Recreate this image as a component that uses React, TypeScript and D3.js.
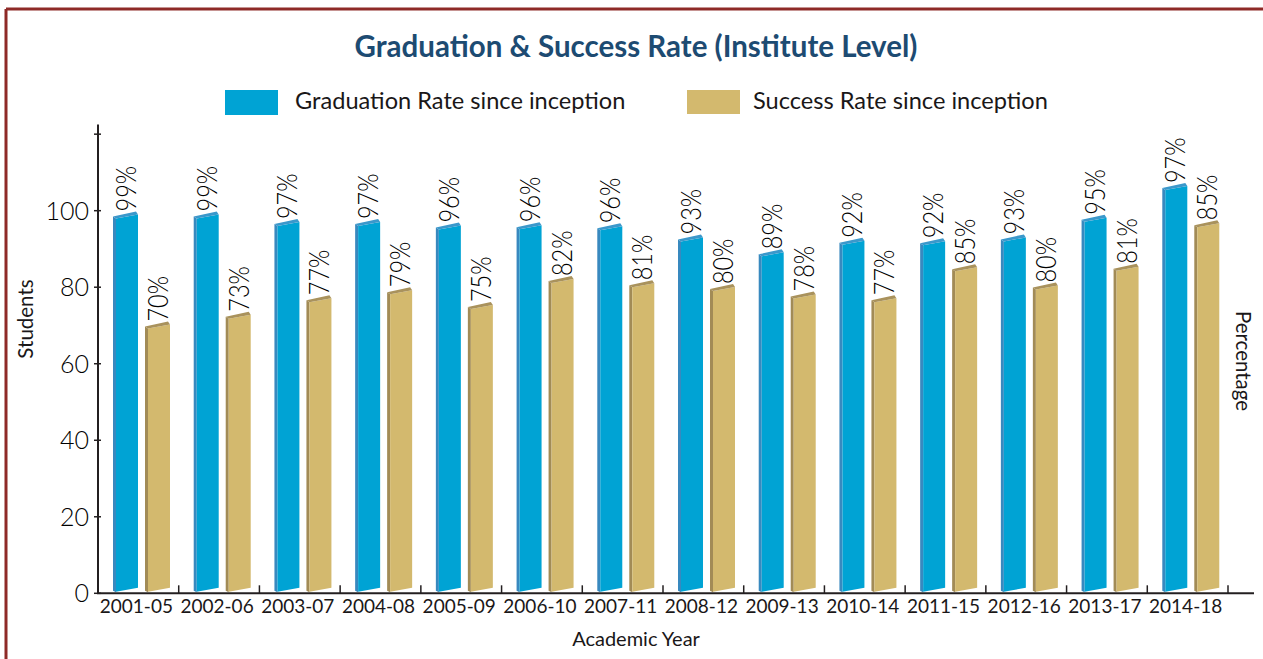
import React from "react";
import * as d3 from "d3";

const categories = ["2001-05", "2002-06", "2003-07", "2004-08", "2005-09", "2006-10", "2007-11", "2008-12", "2009-13", "2010-14", "2011-15", "2012-16", "2013-17", "2014-18"];
const graduationValues = [98.5, 98.5, 96.5, 96.5, 95.6, 95.7, 95.4, 92.5, 88.6, 91.6, 91.5, 92.5, 97.6, 105.9];
const graduationLabels = ["99%", "99%", "97%", "97%", "96%", "96%", "96%", "93%", "89%", "92%", "92%", "93%", "95%", "97%"];
const successValues = [69.7, 72.3, 76.6, 78.7, 74.8, 81.6, 80.5, 79.5, 77.6, 76.6, 84.7, 79.9, 84.8, 96.2];
const successLabels = ["70%", "73%", "77%", "79%", "75%", "82%", "81%", "80%", "78%", "77%", "85%", "80%", "81%", "85%"];
const yTicks = [0, 20, 40, 60, 80, 100, 120];
const yTickLabels = ["0", "20", "40", "60", "80", "100", ""];

const W = 1263;
const H = 659;
const FONT = "Lato, 'Open Sans', sans-serif";
const TEXT = "#1a1718";

const blue = { front: "#00a3d4", side: "#3889bf", top: "#3b98cb" };
const gold = { front: "#d3b96e", side: "#a28b56", top: "#a9925c" };

export default function App() {
  const x = d3.scaleBand<string>().domain(categories).range([98, 1228]).paddingInner(0).paddingOuter(0);
  const y = d3.scaleLinear().domain([0, 122.5]).range([593.3, 124.6]);
  const y0 = y(0);
  const bw = x.bandwidth();

  const bar = (bx: number, v: number, c: typeof blue, key: string) => {
    const xl = bx;
    const xr = bx + 25;
    const fx0 = xl + 3;
    const fx1 = xr;
    const yv = y(v);
    const tL = yv + 2;
    const tR = yv - 2;
    const bL = y0 - 1.5;
    const bR = y0 - 5.5;
    const d = 3;
    const pts = (a: number[][]) => a.map((p) => p.join(",")).join(" ");
    return (
      <g key={key}>
        <polygon points={pts([[fx0, tL], [fx0 - d, tL - d + 1], [fx0 - d, bL - 1], [fx0, bL + 0.5]])} fill={c.side} />
        <polygon points={pts([[fx0, tL], [fx1, tR], [fx1, bR], [fx0, bL]])} fill={c.front} />
        <polygon points={pts([[fx0, tL], [fx1, tR], [fx1 - d + 1, tR - d], [fx0 - d, tL - d + 1]])} fill={c.top} />
      </g>
    );
  };

  const label = (bx: number, v: number, text: string, key: string) => {
    const cx = bx + 3 + 11;
    const ty = y(v) - 5;
    return (
      <text key={key} transform={`translate(${cx + 9},${ty}) rotate(-90) scale(1,1.15)`} fontFamily={FONT} fontWeight={300} fontSize={23.5} fill="#000" textAnchor="start">
        {text}
      </text>
    );
  };

  return (
    <svg width={W} height={H} style={{ position: "absolute", left: 0, top: 0, background: "#fff" }}>
      {/* border */}
      <line x1={6} y1={9} x2={W} y2={9} stroke="#8e2a27" strokeWidth={3} />
      <line x1={6} y1={9} x2={6} y2={H} stroke="#8e2a27" strokeWidth={3} />

      {/* title */}
      <text x={636} y={57} textAnchor="middle" fontFamily={FONT} fontWeight={700} fontSize={29.5} fill="#1d4b72">
        Graduation &amp; Success Rate (Institute Level)
      </text>

      {/* legend */}
      <rect x={225} y={90} width={53} height={25} fill={blue.front} />
      <text x={295} y={109} fontFamily={FONT} fontWeight={400} fontSize={23.6} fill={TEXT}>Graduation Rate since inception</text>
      <rect x={687} y={90} width={53} height={24} fill={gold.front} />
      <text x={753} y={109} fontFamily={FONT} fontWeight={400} fontSize={23.6} fill={TEXT}>Success Rate since inception</text>

      {/* bars */}
      {categories.map((c, i) => {
        const bx = x(c)!;
        return (
          <g key={c}>
            {bar(bx + 15, graduationValues[i], blue, "b")}
            {bar(bx + 47, successValues[i], gold, "g")}
            {label(bx + 15, graduationValues[i], graduationLabels[i], "lb")}
            {label(bx + 47, successValues[i], successLabels[i], "lg")}
          </g>
        );
      })}

      {/* y axis */}
      <line x1={98} y1={y(122.5)} x2={98} y2={y0} stroke="#231f20" strokeWidth={2} />
      {yTicks.map((t, i) => (
        <g key={t}>
          <line x1={94} x2={101} y1={y(t)} y2={y(t)} stroke="#231f20" strokeWidth={1.5} />
          <text x={89} y={y(t) + 9} textAnchor="end" fontFamily={FONT} fontWeight={300} fontSize={25} fill="#000">
            {yTickLabels[i]}
          </text>
        </g>
      ))}

      {/* x axis */}
      <line x1={97} y1={y0} x2={1254} y2={y0} stroke="#231f20" strokeWidth={2} />
      {categories.map((c) => (
        <line key={c} x1={x(c)! + bw} x2={x(c)! + bw} y1={y0} y2={y0 - 8} stroke="#231f20" strokeWidth={1.5} />
      ))}
      {categories.map((c) => (
        <text key={c} x={x(c)! + bw / 2 - 2} y={613} textAnchor="middle" fontFamily={FONT} fontSize={19} fill={TEXT}>
          {c}
        </text>
      ))}

      {/* axis titles */}
      <text x={636} y={646} textAnchor="middle" fontFamily={FONT} fontWeight={400} fontSize={20} fill={TEXT}>Academic Year</text>
      <text transform={`translate(33,319) rotate(-90)`} textAnchor="middle" fontFamily={FONT} fontWeight={400} fontSize={20.5} fill={TEXT}>Students</text>
      <text transform={`translate(1236,361) rotate(90)`} textAnchor="middle" fontFamily={FONT} fontWeight={400} fontSize={20.5} fill={TEXT}>Percentage</text>
    </svg>
  );
}
